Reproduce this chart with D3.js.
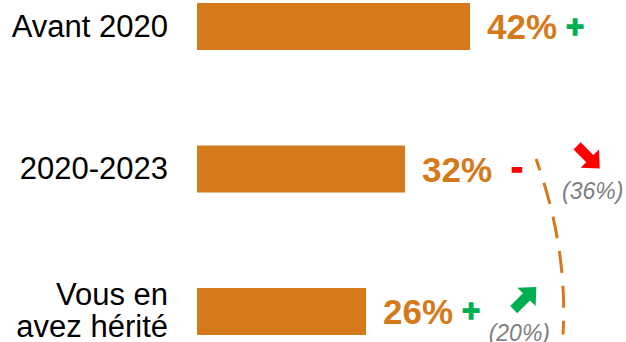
<!DOCTYPE html>
<html lang="fr">
<head>
<meta charset="utf-8">
<script src="https://cdn.jsdelivr.net/npm/d3@7"></script>
<style>
  html, body { margin: 0; padding: 0; background: #ffffff; }
  svg { display: block; }
</style>
</head>
<body>
<svg id="chart" width="626" height="342"></svg>
<script>
// Share of respondents by period of acquisition
const categories = ["Avant 2020", "2020-2023", "Vous en avez hérité"];
const categoryLines = [["Avant 2020"], ["2020-2023"], ["Vous en", "avez hérité"]];
const shares = [42, 32, 26];
const trendSigns = ["+", "-", "+"];
const previousShares = [null, 36, 20];
const shiftDirections = [null, "down", "up"];

const W = 626, H = 342;
const orange = "#D57A1B";
const green = "#00B050";
const red = "#FF0000";
const grey = "#7F7F7F";
const font = "'Liberation Sans', Arial, sans-serif";

const svg = d3.select("#chart");

const x = d3.scaleLinear().domain([0, 100]).range([197, 847]);
const y = d3.scaleBand().domain(categories).range([3, 335])
  .paddingInner(0.67).paddingOuter(0);
const mid = c => y(c) + y.bandwidth() / 2;

const rows = categories.map((c, i) => ({
  cat: c, lines: categoryLines[i], value: shares[i], sign: trendSigns[i],
  prev: previousShares[i], dir: shiftDirections[i]
}));

// Bars
svg.append("g").selectAll("rect").data(rows).join("rect")
  .attr("x", x(0))
  .attr("y", d => y(d.cat))
  .attr("width", d => x(d.value) - x(0))
  .attr("height", y.bandwidth())
  .attr("fill", orange);

// Category labels (right aligned, possibly two lines)
const catG = svg.append("g");
rows.forEach(d => {
  const n = d.lines.length;
  const t = catG.append("text")
    .attr("x", 168)
    .attr("text-anchor", "end")
    .attr("font-family", font)
    .attr("font-size", 31)
    .attr("fill", "#000");
  d.lines.forEach((ln, j) => {
    t.append("tspan")
      .attr("x", 168)
      .attr("y", mid(d.cat) + 10 + (j - (n - 1) / 2) * 32)
      .text(ln);
  });
});

// Value labels with trend sign
const signStyle = { "+": { color: green, gap: 9, size: 31 }, "-": { color: red, gap: 19, size: 36 } };
rows.forEach(d => {
  const lx = x(d.value) + 17;
  const lbl = svg.append("text")
    .attr("x", lx)
    .attr("y", mid(d.cat) + 12.5)
    .attr("font-family", font)
    .attr("font-weight", "bold")
    .attr("font-size", 35)
    .attr("fill", orange)
    .text(d.value + "%");
  const end = lx + lbl.node().getComputedTextLength();
  const st = signStyle[d.sign];
  svg.append("text")
    .attr("x", end + st.gap)
    .attr("y", mid(d.cat) + 10)
    .attr("font-family", font)
    .attr("font-weight", "bold")
    .attr("font-size", st.size)
    .attr("fill", st.color)
    .attr("stroke", st.color)
    .attr("stroke-width", 1.3)
    .text(d.sign);
});

// Dashed connector between the two previous-period values
const p0 = [536, mid(categories[1]) - 10];
const p2 = [563, mid(categories[2]) + 23];
const ctrl = [568, (p0[1] + p2[1]) / 2 + 1];
svg.append("path")
  .attr("d", `M${p0[0]},${p0[1]} Q${ctrl[0]},${ctrl[1]} ${p2[0]},${p2[1]}`)
  .attr("fill", "none")
  .attr("stroke", orange)
  .attr("stroke-width", 3)
  .attr("stroke-dasharray", "22 13")
  .attr("stroke-dashoffset", 10);

// Block arrow pointing right, rotated per direction
const arrowPts = [[-15, -5], [3, -5], [3, -13], [17, 0], [3, 13], [3, 5], [-15, 5]];
const arrowLine = d3.line();

rows.filter(d => d.prev !== null).forEach(d => {
  const base = mid(d.cat) + 29.5;
  const top = d.dir === "down";
  const t = svg.append("text")
    .attr("y", base)
    .attr("font-family", font)
    .attr("font-style", "italic")
    .attr("font-size", 23)
    .attr("fill", grey)
    .text("(" + d.prev + "%)");
  const w = t.node().getComputedTextLength();
  const tx = top ? p0[0] + 26 : p2[0] - 13 - w;
  t.attr("x", tx);
  const cx = tx + w / 2 + (top ? -5 : 5);
  const cy = base - 42;
  svg.append("path")
    .attr("d", arrowLine(arrowPts) + "Z")
    .attr("transform", `translate(${cx},${cy}) rotate(${top ? 45 : -45})`)
    .attr("fill", top ? red : green);
});
</script>
</body>
</html>
